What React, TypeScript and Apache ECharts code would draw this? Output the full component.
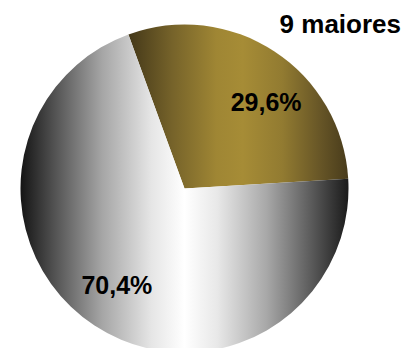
import React, { useEffect, useRef } from "react";
import * as echarts from "echarts";

const categories = ["9 maiores", "Demais"];
const values = [29.6, 70.4];
const labels = ["29,6%", "70,4%"];
const titleText = "9 maiores";

const goldGradient = new echarts.graphic.LinearGradient(0, 0, 1, 0, [
  { offset: 0, color: "#443819" },
  { offset: 0.2, color: "#76632a" },
  { offset: 0.4, color: "#9f8634" },
  { offset: 0.52, color: "#a68c36" },
  { offset: 0.7, color: "#927b31" },
  { offset: 0.88, color: "#655426" },
  { offset: 1, color: "#483b1b" },
]);
const greyGradient = new echarts.graphic.LinearGradient(0, 0, 1, 0, [
  { offset: 0, color: "#141414" },
  { offset: 0.1, color: "#505050" },
  { offset: 0.25, color: "#a6a6a6" },
  { offset: 0.4, color: "#e6e6e6" },
  { offset: 0.5, color: "#ffffff" },
  { offset: 0.6, color: "#e8e8e8" },
  { offset: 0.75, color: "#a8a8a8" },
  { offset: 0.9, color: "#535353" },
  { offset: 1, color: "#1a1a1a" },
]);
const fills = [goldGradient, greyGradient];
const labelShift = [
  [35, -15],
  [-21, 25],
];

export default function App() {
  const ref = useRef<HTMLDivElement>(null);
  useEffect(() => {
    if (!ref.current) return;
    const chart = echarts.init(ref.current, null, { renderer: "svg" });
    chart.setOption({
      animation: false,
      title: {
        text: titleText,
        right: 5,
        top: 6,
        textStyle: {
          fontFamily: "Liberation Sans, Arial, sans-serif",
          fontWeight: "bold",
          fontSize: 26,
          color: "#000",
        },
      },
      series: [
        {
          type: "pie",
          center: [184.5, 188.5],
          radius: 164,
          startAngle: 110,
          clockwise: true,
          silent: true,
          data: categories.map((name, i) => ({
            name,
            value: values[i],
            itemStyle: { color: fills[i] },
          })),
          label: {
            show: true,
            position: "inside",
            formatter: (p: any) => labels[p.dataIndex],
            fontFamily: "Liberation Sans, Arial, sans-serif",
            fontWeight: "bold",
            fontSize: 25,
            color: "#000",
          },
          labelLine: { show: false },
          labelLayout: (p: any) => ({
            dx: labelShift[p.dataIndex][0],
            dy: labelShift[p.dataIndex][1],
          }),
        },
      ],
    });
    return () => chart.dispose();
  }, []);
  return <div ref={ref} style={{ width: 411, height: 348, marginLeft: -8, marginTop: -8 }} />;
}
